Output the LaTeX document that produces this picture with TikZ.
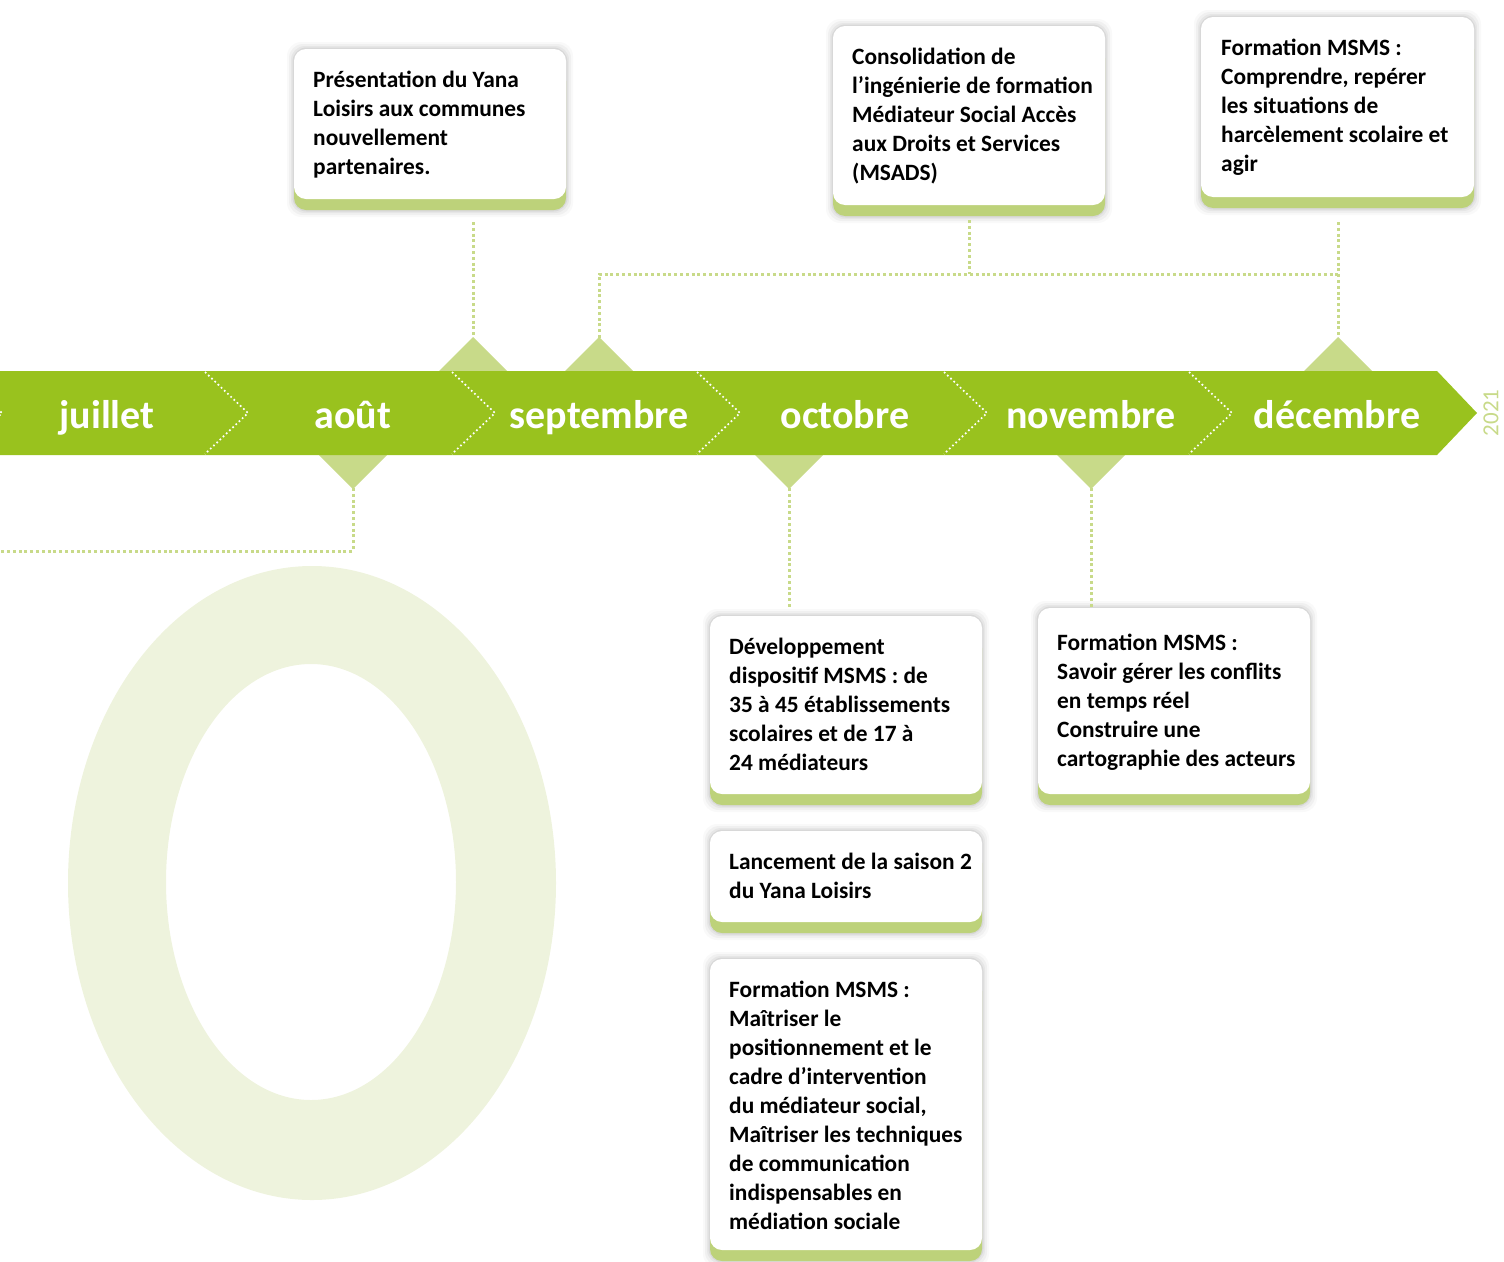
\documentclass[tikz,border=0pt]{standalone}
\usepackage{fontspec}
\setmainfont{Carlito}
\definecolor{band}{HTML}{99C21E}
\definecolor{lgreen}{HTML}{C8DA89}
\definecolor{bgO}{HTML}{EEF3DD}
\definecolor{lipc}{HTML}{BDD27A}
\newcommand\mkbox[5]{%
  \foreach \s/\o in {7/0.025,5/0.035,3/0.045,1.5/0.06}{%
    \fill[black,opacity=\o,rounded corners=14pt] (#2-\s,#3-\s) rectangle (#4+\s,#5+11+\s);}
  \fill[lipc,rounded corners=12pt] (#2,#3+20) rectangle (#4,#5+11);
  \fill[white,rounded corners=12pt] (#2,#3) rectangle (#4,#5);
  \coordinate (#1-s) at ({(#2+#4)/2},#5+11);
}
\tikzset{
  boxtext/.style={font=\bfseries\fontsize{23.4}{29}\selectfont, align=left, anchor=north west, inner sep=0pt, text=black},
  month/.style={font=\bfseries\fontsize{40}{48}\selectfont, text=white, anchor=base, inner sep=0pt},
  conn/.style={lgreen, line width=3pt, dash pattern=on 3pt off 2.8pt},
  chev/.style={white, line width=1.7pt, dash pattern=on 1.7pt off 2.7pt},
  diam/.style={fill=lgreen}
}
\begin{document}
\begin{tikzpicture}[x=1pt,y=-1pt]
\useasboundingbox (0,0) rectangle (1504,1261);
% background O
\fill[bgO,even odd rule] (312,883) ellipse [x radius=244, y radius=317]
  (311,882) ellipse [x radius=145, y radius=218];
% diamond coordinates
\coordinate (dA) at (473,338);
\coordinate (dS) at (599,338);
\coordinate (dD) at (1338,338);
\coordinate (dAu) at (353,488);
\coordinate (dO) at (789,488);
\coordinate (dN) at (1091,488);
\coordinate (jS) at (599,274);
\coordinate (jC) at (969,274);
\coordinate (jD) at (1338,274);
\coordinate (jAu) at (353,551);
\coordinate (lAu) at (0,551);
% diamonds
\foreach \x in {473,599,1338}{\fill[diam] (\x-34,371) -- (\x,337) -- (\x+34,371) -- cycle;}
\foreach \x in {353,789,1091}{\fill[diam] (\x-34,455) -- (\x,489) -- (\x+34,455) -- cycle;}
% band
\fill[band] (-5,371) -- (1437,371) -- (1477,413) -- (1437,455) -- (-5,455) -- cycle;
\foreach \x in {-41,205,452,697,944,1189}{\draw[chev] (\x,372) -- (\x+43,413) -- (\x,454);}
\node[month] (m1) at (107,428) {juillet};
\node[month] (m2) at (353,428) {août};
\node[month] (m3) at (599,428) {septembre};
\node[month] (m4) at (845,428) {octobre};
\node[month] (m5) at (1091,428) {novembre};
\node[month] (m6) at (1337,428) {décembre};
\node[font=\fontsize{23}{28}\selectfont, text=lgreen, rotate=90, inner sep=0pt] (yr) at (1491,413) {2021};
% boxes
\mkbox{b1}{294}{49}{566}{199}
\mkbox{b2}{833}{26}{1105}{205}
\mkbox{b3}{1201}{17}{1474}{197}
\mkbox{b4}{710}{616}{982}{794}
\mkbox{b5}{710}{831}{982}{922}
\mkbox{b6}{710}{959}{982}{1250}
\mkbox{b7}{1038}{608}{1310}{794}
% connectors
\coordinate (b1c) at (473,222);
\coordinate (b2c) at (969,220);
\coordinate (b3c) at (1338,222);
\coordinate (b4c) at (789,607);
\coordinate (b7c) at (1091,607);
\draw[conn] (b1c) -- (dA);
\draw[conn] (dS) -- (jS) -- (jD);
\draw[conn] (b2c) -- (jC);
\draw[conn] (b3c) -- (dD);
\draw[conn] (dAu) -- (jAu) -- (lAu);
\draw[conn] (dO) -- (b4c);
\draw[conn] (dN) -- (b7c);
% texts
\node[boxtext] (t1) at (313,67) {\rule{0pt}{20pt}Présentation du Yana\\Loisirs aux communes\\nouvellement\\partenaires.};
\node[boxtext] (t2) at (852,44) {\rule{0pt}{20pt}Consolidation de\\l’ingénierie de formation\\Médiateur Social Accès\\aux Droits et Services\\(MSADS)};
\node[boxtext] (t3) at (1221,35) {\rule{0pt}{20pt}Formation MSMS :\\Comprendre, repérer\\les situations de\\harcèlement scolaire et\\agir};
\node[boxtext] (t4) at (729,634) {\rule{0pt}{20pt}Développement\\dispositif MSMS : de\\35 à 45 établissements\\scolaires et de 17 à\\24 médiateurs};
\node[boxtext] (t5) at (729,849) {\rule{0pt}{20pt}Lancement de la saison 2\\du Yana Loisirs};
\node[boxtext] (t6) at (729,977) {\rule{0pt}{20pt}Formation MSMS :\\Maîtriser le\\positionnement et le\\cadre d’intervention\\du médiateur social,\\Maîtriser les techniques\\de communication\\indispensables en\\médiation sociale};
\node[boxtext] (t7) at (1057,630) {\rule{0pt}{20pt}Formation MSMS :\\Savoir gérer les conflits\\en temps réel\\Construire une\\cartographie des acteurs};
\end{tikzpicture}
\end{document}
